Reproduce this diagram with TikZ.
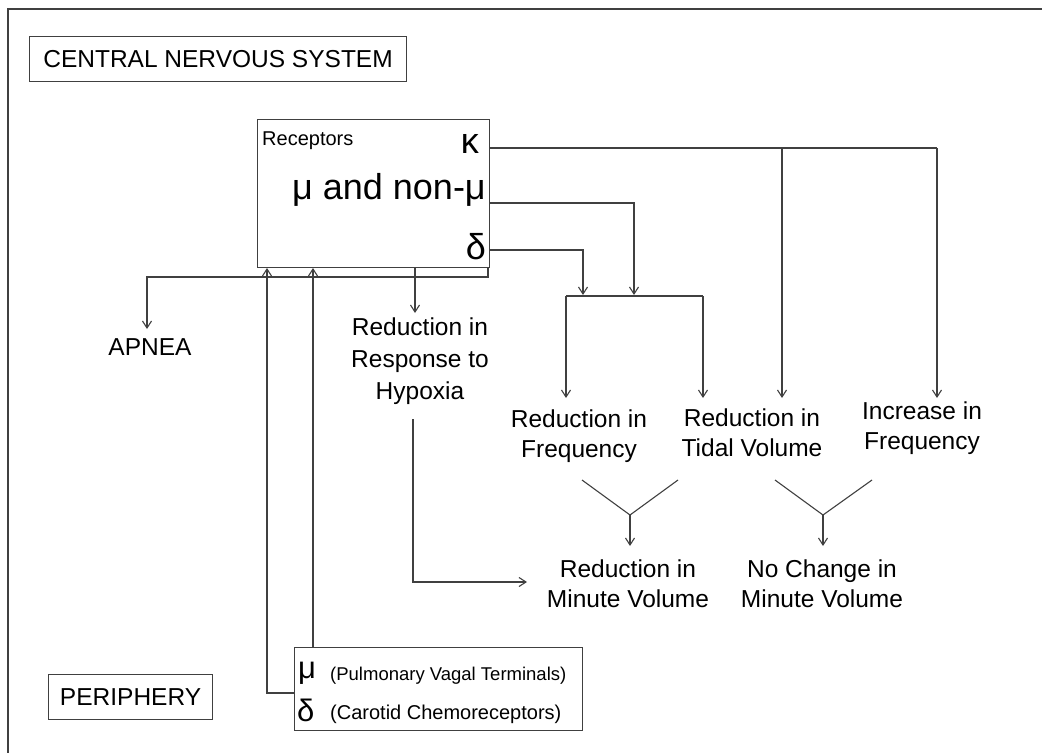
\documentclass[tikz,border=0pt]{standalone}
\usepackage{fontspec}
\setmainfont{Liberation Sans}
\usetikzlibrary{arrows.meta}
\definecolor{ln}{HTML}{404040}
\tikzset{
  conn/.style={draw=ln, line width=1.1pt},
  arr/.style={conn, -{Straight Barb[length=7pt,width=9pt]}},
  lab/.style={inner sep=0pt, align=center, font=\fontsize{24.5}{30}\selectfont},
  boxlab/.style={draw=ln, line width=1.1pt, inner sep=0pt, font=\fontsize{24.5}{30}\selectfont},
  greek/.style={inner sep=0pt, font=\fontsize{36}{40}\selectfont},
  small/.style={inner sep=0pt, font=\fontsize{20}{24}\selectfont},
}
\begin{document}
\begin{tikzpicture}[x=1pt,y=-1pt]
\useasboundingbox (0,0) rectangle (1042,753);
% outer frame (top and left only)
\coordinate (ftl) at (8,9);
\coordinate (ftr) at (1042,9);
\coordinate (fbl) at (8,753);
\draw[draw=ln, line width=1.6pt] (ftr) -- (ftl) -- (fbl);

% title boxes
\node[boxlab, minimum width=377pt, minimum height=45pt, anchor=north west] (cns) at (29,36) {CENTRAL NERVOUS SYSTEM};
\node[boxlab, minimum width=164pt, minimum height=45pt, anchor=north west] (per) at (48,674) {PERIPHERY};

% receptors box
\node[draw=ln, line width=1.1pt, minimum width=232pt, minimum height=148pt, inner sep=0pt, anchor=north west] (rec) at (257,119) {};
\node[small, anchor=base west] (rtxt) at (262,145) {Receptors};
\node[greek, anchor=base east] (kap) at (479,153) {κ};
\node[greek, anchor=base east] (mu) at (486,199) {μ and non-μ};
\node[greek, anchor=base east] (del) at (486,259) {δ};

% periphery receptors box
\node[draw=ln, line width=1.1pt, minimum width=288pt, minimum height=83pt, inner sep=0pt, anchor=north west] (pbox) at (294,647) {};
\node[inner sep=0pt, font=\fontsize{31}{32}\selectfont, anchor=base west] (pmu) at (298,678) {μ};
\node[inner sep=0pt, font=\fontsize{18.5}{24}\selectfont, anchor=base west] (pmut) at (330,680) {(Pulmonary Vagal Terminals)};
\node[inner sep=0pt, font=\fontsize{31}{32}\selectfont, anchor=base west] (pdel) at (297,721) {δ};
\node[small, anchor=base west] (pdelt) at (330,719) {(Carotid Chemoreceptors)};

% outcome labels
\node[lab] (apnea) at (150,347) {APNEA};
\node[lab, font=\fontsize{24.5}{32}\selectfont] (hyp) at (420,361) {Reduction in\\Response to\\Hypoxia};
\node[lab] (rfreq) at (579,436) {Reduction in\\Frequency};
\node[lab] (rtid) at (752,433) {Reduction in\\Tidal Volume};
\node[lab] (ifreq) at (922,428) {Increase in\\Frequency};
\node[lab] (rmin) at (628,584) {Reduction in\\Minute Volume};
\node[lab] (nmin) at (822,584) {No Change in\\Minute Volume};

% kappa connectors
\coordinate (k0) at (489,148);
\coordinate (k1) at (782,148);
\coordinate (k2) at (937,148);
\coordinate (k1e) at (782,398);
\coordinate (k2e) at (937,398);
\draw[conn] (k0) -- (k2);
\draw[arr] (k2) -- (k2e);
\draw[arr] (k1) -- (k1e);

% mu connector
\coordinate (m0) at (489,203);
\coordinate (m1) at (634,203);
\coordinate (m2) at (634,295);
\draw[arr] (m0) -- (m1) -- (m2);

% delta connector
\coordinate (d0) at (489,250);
\coordinate (d1) at (583,250);
\coordinate (d2) at (583,295);
\draw[arr] (d0) -- (d1) -- (d2);

% bar to frequency / tidal volume
\coordinate (b1) at (566,296);
\coordinate (b2) at (703,296);
\coordinate (b1e) at (566,398);
\coordinate (b2e) at (703,398);
\draw[conn] (b1) -- (b2);
\draw[arr] (b1) -- (b1e);
\draw[arr] (b2) -- (b2e);

% apnea line
\coordinate (a0) at (488,267);
\coordinate (a1) at (488,277);
\coordinate (a2) at (147,277);
\coordinate (a3) at (147,329);
\draw[arr] (a0) -- (a1) -- (a2) -- (a3);

% hypoxia
\coordinate (h0) at (415,267);
\coordinate (h1) at (415,313);
\draw[arr] (h0) -- (h1);

% from periphery up
\coordinate (p1a) at (294,693);
\coordinate (p1b) at (267,693);
\coordinate (p1c) at (267,268);
\coordinate (p2a) at (313,647);
\coordinate (p2c) at (313,268);
\draw[arr] (p1a) -- (p1b) -- (p1c);
\draw[arr] (p2a) -- (p2c);

% hypoxia to minute volume
\coordinate (q0) at (413,419);
\coordinate (q1) at (413,582);
\coordinate (q2) at (527,582);
\draw[arr] (q0) -- (q1) -- (q2);

% V shapes
\coordinate (v1l) at (582,480);
\coordinate (v1c) at (630,515);
\coordinate (v1r) at (678,480);
\coordinate (v1e) at (630,546);
\draw[conn] (v1l) -- (v1c) -- (v1r);
\draw[arr] (v1c) -- (v1e);
\coordinate (v2l) at (775,480);
\coordinate (v2c) at (823,515);
\coordinate (v2r) at (872,480);
\coordinate (v2e) at (823,546);
\draw[conn] (v2l) -- (v2c) -- (v2r);
\draw[arr] (v2c) -- (v2e);
\end{tikzpicture}
\end{document}
